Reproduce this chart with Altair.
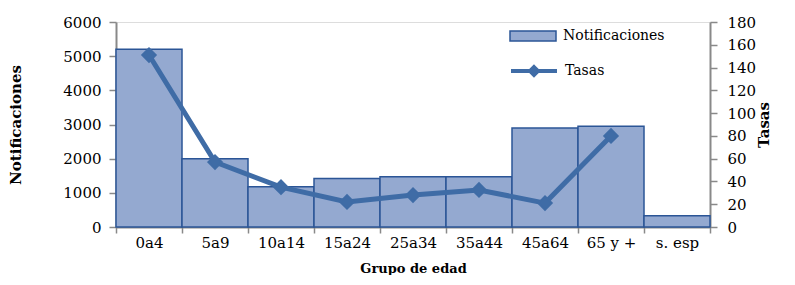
import altair as alt
import pandas as pd

categorias = ["0a4", "5a9", "10a14", "15a24", "25a34", "35a44", "45a64", "65 y +", "s. esp"]
notificaciones = [5200, 2000, 1180, 1420, 1470, 1470, 2900, 2950, 330]
tasas = [151, 57, 35, 22, 28, 32.5, 21, 80, None]
serie_barra = "Notificaciones"
serie_linea = "Tasas"

df = pd.DataFrame({
    "grupo": categorias,
    "notif": notificaciones,
    "tasa": tasas,
    "sb": [serie_barra] * len(categorias),
    "sl": [serie_linea] * len(categorias),
})

FONT = "DejaVu Serif"
GRAY = "#898989"
BAR_FILL = "#94A9D0"
BAR_STROKE = "#2B5596"
LINE_COL = "#3F6CA6"

x = alt.X(
    "grupo:N",
    sort=categorias,
    scale=alt.Scale(paddingInner=0, paddingOuter=0),
    axis=alt.Axis(
        title="Grupo de edad", labelAngle=0, tickBand="extent", tickSize=6,
        labelPadding=2, titlePadding=12, titleFontSize=13, titleFontWeight="bold",
        labelFontSize=15, domainColor=GRAY, domainWidth=2, tickColor=GRAY, tickWidth=1.5,
        labelFont=FONT, titleFont=FONT, labelColor="black", titleColor="black",
    ),
)

bars = alt.Chart(df).mark_bar(stroke=BAR_STROKE, strokeWidth=1.5).encode(
    x=x,
    y=alt.Y(
        "notif:Q",
        scale=alt.Scale(domain=[0, 6000]),
        axis=alt.Axis(
            title="Notificaciones", values=[0, 1000, 2000, 3000, 4000, 5000, 6000], format="d",
            grid=False, tickSize=7, labelPadding=8, titlePadding=39,
            labelFontSize=15, titleFontSize=15, titleFontWeight="bold",
            domainColor=GRAY, domainWidth=2, tickColor=GRAY, tickWidth=1.5,
            labelFont=FONT, titleFont=FONT, labelColor="black", titleColor="black",
        ),
    ),
    fill=alt.Fill(
        "sb:N",
        scale=alt.Scale(domain=[serie_barra], range=[BAR_FILL]),
        legend=alt.Legend(
            title=None, orient="none", legendX=393, legendY=-10,
            symbolType="M-1,-0.22H1V0.22H-1Z", symbolSize=2116,
            symbolStrokeColor=BAR_STROKE, symbolStrokeWidth=1.5, symbolFillColor=BAR_FILL,
            labelFont=FONT, labelFontSize=14, labelOffset=6, padding=0,
        ),
    ),
)

line = alt.Chart(df).mark_line(
    strokeWidth=5,
    point=alt.OverlayMarkDef(shape="diamond", size=180, filled=True, color=LINE_COL),
).encode(
    x=x,
    y=alt.Y(
        "tasa:Q",
        scale=alt.Scale(domain=[0, 180]),
        axis=alt.Axis(
            orient="right", title="Tasas", values=list(range(0, 181, 20)),
            grid=False, tickSize=7, labelPadding=10, titlePadding=16, titleAngle=270,
            labelFontSize=15, titleFontSize=15, titleFontWeight="bold",
            domainColor=GRAY, domainWidth=2, tickColor=GRAY, tickWidth=1.5,
            labelFont=FONT, titleFont=FONT, labelColor="black", titleColor="black",
        ),
    ),
    stroke=alt.Stroke(
        "sl:N",
        scale=alt.Scale(domain=[serie_linea], range=[LINE_COL]),
        legend=alt.Legend(
            title=None, orient="none", legendX=393, legendY=24,
            symbolType="M-1,0H1M0,-0.17L0.17,0L0,0.17L-0.17,0Z", symbolSize=2116,
            symbolStrokeColor=LINE_COL, symbolStrokeWidth=4, symbolFillColor=LINE_COL,
            labelFont=FONT, labelFontSize=14, labelOffset=6, padding=0,
        ),
    ),
)

chart = alt.layer(bars, line).resolve_scale(y="independent", fill="independent", stroke="independent").properties(
    width=594, height=205, padding={"left": 0, "top": 4, "right": 0, "bottom": 0}
).configure_view(stroke=None).configure(font=FONT)

chart.save("out.html", embed_options={"renderer": "svg", "actions": False})
